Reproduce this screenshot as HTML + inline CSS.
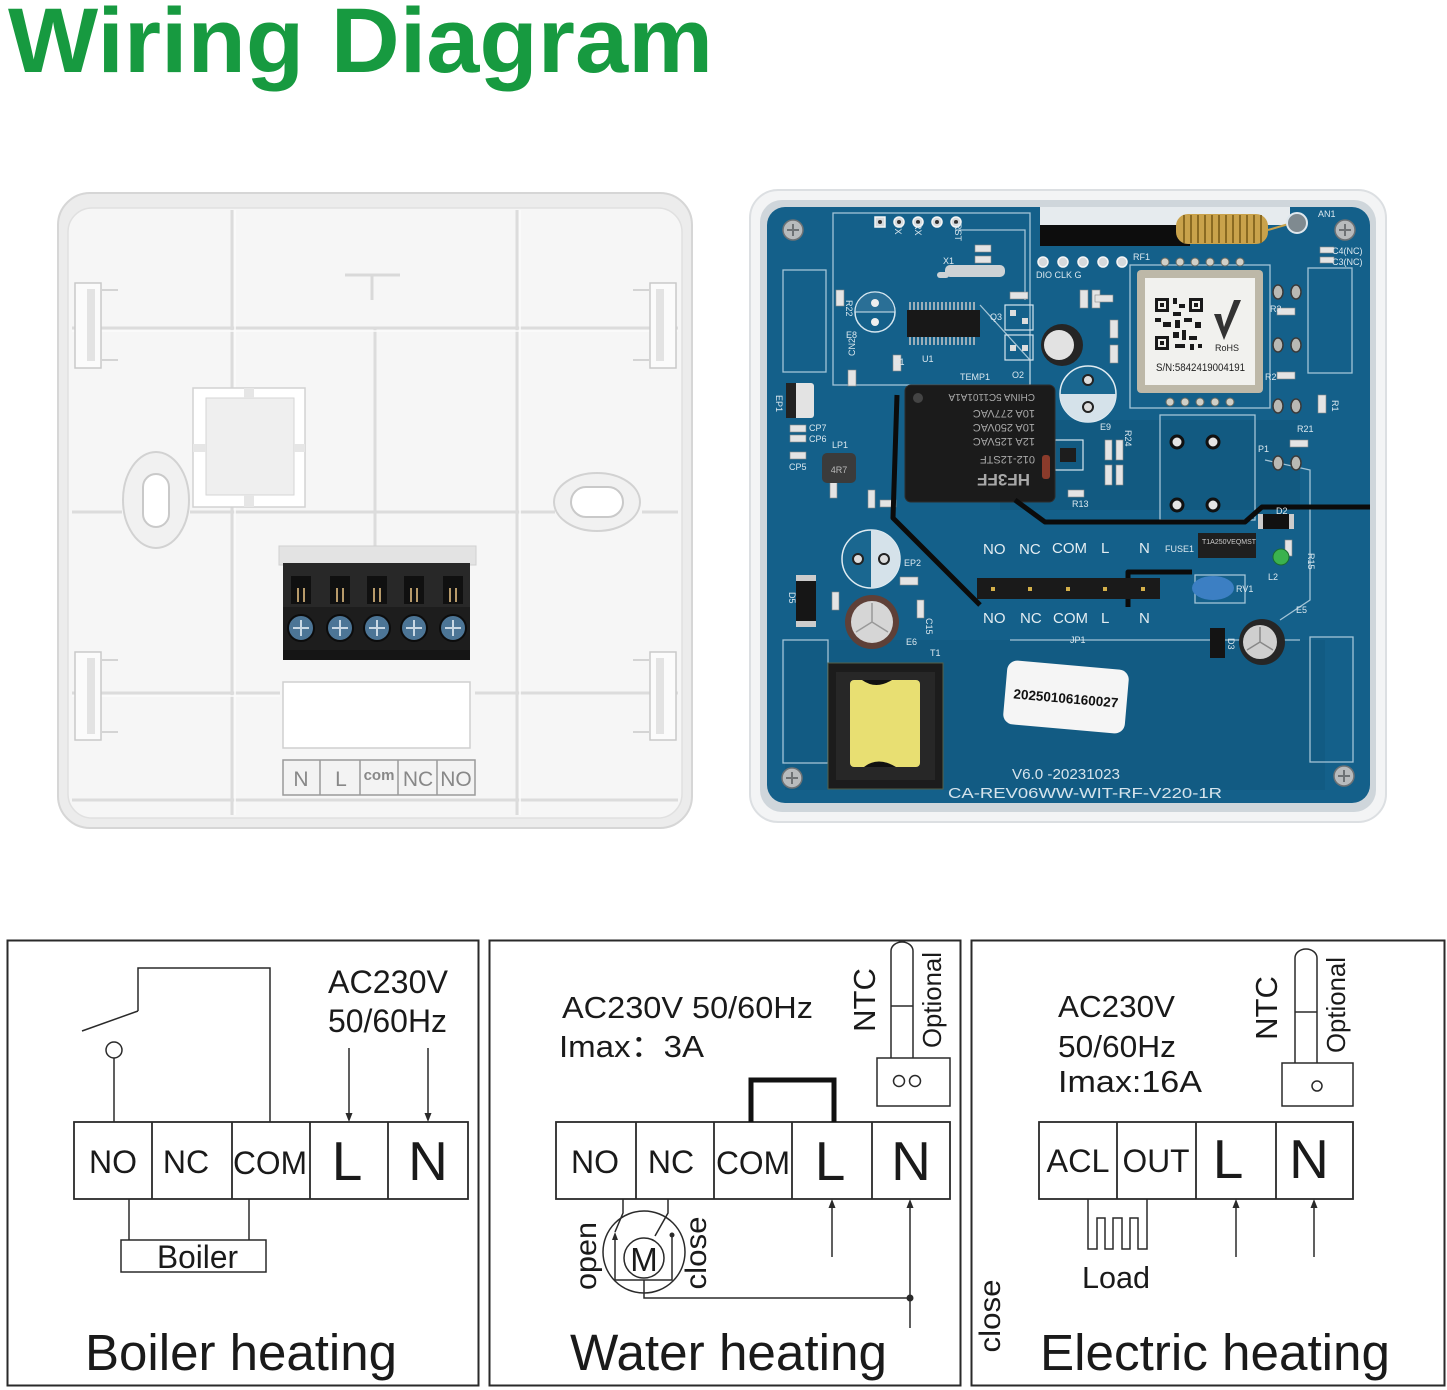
<!DOCTYPE html>
<html><head><meta charset="utf-8"><style>
html,body{margin:0;padding:0;background:#fff;}
svg{display:block;}
text{font-family:"Liberation Sans","Noto Sans CJK SC",sans-serif;}
</style></head><body>
<svg width="1447" height="1390" viewBox="0 0 1447 1390" xmlns="http://www.w3.org/2000/svg">
<rect width="1447" height="1390" fill="#fff"/>
<!-- Title -->
<text x="8" y="72" font-size="92" font-weight="bold" fill="#179a40" textLength="705" lengthAdjust="spacingAndGlyphs">Wiring Diagram</text>

<!-- ===== LEFT BACK PLATE ===== -->
<g>
<rect x="58" y="193" width="634" height="635" rx="32" fill="#ececec" stroke="#d6d6d6" stroke-width="2"/>
<rect x="68" y="208" width="614" height="610" rx="24" fill="#f6f6f6" stroke="#e0e0e0" stroke-width="1.5"/>
<g stroke="#dcdcdc" stroke-width="3" fill="none">
<line x1="232" y1="210" x2="232" y2="815"/>
<line x1="517" y1="210" x2="517" y2="815"/>
<line x1="375" y1="328" x2="375" y2="548"/>
<line x1="72" y1="328" x2="678" y2="328"/>
<line x1="72" y1="512" x2="122" y2="512"/>
<line x1="190" y1="512" x2="555" y2="512"/>
<line x1="642" y1="512" x2="678" y2="512"/>
<line x1="72" y1="693" x2="280" y2="693"/>
<line x1="475" y1="693" x2="678" y2="693"/>
<line x1="72" y1="800" x2="678" y2="800"/>
</g>
<g stroke="#fbfbfb" stroke-width="1.5">
<line x1="235" y1="210" x2="235" y2="815"/>
<line x1="520" y1="210" x2="520" y2="815"/>
<line x1="72" y1="331" x2="678" y2="331"/>
<line x1="72" y1="696" x2="280" y2="696"/>
</g>
<path d="M345 275 H400 M372 275 V300" stroke="#d9d9d9" stroke-width="3" fill="none"/>
<!-- clips -->
<g fill="#fbfbfb" stroke="#c9c9c9" stroke-width="1.5">
<rect x="75" y="283" width="26" height="85"/>
<rect x="75" y="652" width="26" height="88"/>
<rect x="650" y="283" width="26" height="85"/>
<rect x="650" y="652" width="26" height="88"/>
</g>
<g fill="#e3e3e3">
<rect x="87" y="289" width="8" height="72"/>
<rect x="87" y="658" width="8" height="76"/>
<rect x="656" y="289" width="8" height="72"/>
<rect x="656" y="658" width="8" height="76"/>
</g>
<g stroke="#d4d4d4" stroke-width="2" fill="none">
<path d="M101 290 H118 M101 360 H118 M101 660 H118 M101 732 H118"/>
<path d="M650 290 H633 M650 360 H633 M650 660 H633 M650 732 H633"/>
</g>
<!-- square knockout -->
<rect x="193" y="388" width="112" height="119" fill="#ffffff" stroke="#d2d2d2" stroke-width="1.5"/>
<rect x="206" y="398" width="88" height="97" fill="#efefef" stroke="#d6d6d6"/>
<g fill="#e6e6e6">
<rect x="244" y="388" width="10" height="10"/>
<rect x="244" y="495" width="10" height="12"/>
<rect x="193" y="444" width="13" height="8"/>
<rect x="294" y="444" width="11" height="8"/>
</g>
<!-- ovals -->
<ellipse cx="156" cy="500" rx="33" ry="48" fill="#f1f1f1" stroke="#d2d2d2" stroke-width="2"/>
<rect x="143" y="474" width="26" height="53" rx="13" fill="#fff" stroke="#c9c9c9" stroke-width="2"/>
<ellipse cx="597" cy="502" rx="43" ry="29" fill="#f1f1f1" stroke="#d2d2d2" stroke-width="2"/>
<rect x="571" y="487" width="52" height="30" rx="15" fill="#fff" stroke="#c9c9c9" stroke-width="2"/>
<!-- terminal block -->
<rect x="279" y="546" width="197" height="19" fill="#e3e3e3" stroke="#d0d0d0"/>
<rect x="283" y="563" width="187" height="97" fill="#1d1d1d"/>
<rect x="283" y="563" width="187" height="44" fill="#282828"/>
<rect x="283" y="650" width="187" height="10" fill="#151515"/>
<g fill="#101010">
<rect x="291" y="576" width="20" height="28"/><rect x="330" y="576" width="20" height="28"/><rect x="367" y="576" width="20" height="28"/><rect x="404" y="576" width="20" height="28"/><rect x="443" y="576" width="20" height="28"/>
</g>
<g stroke="#b79a6a" stroke-width="2">
<path d="M298 588 V602 M304 588 V602 M337 588 V602 M343 588 V602 M374 588 V602 M380 588 V602 M411 588 V602 M417 588 V602 M450 588 V602 M456 588 V602"/>
</g>
<g fill="#4c7596" stroke="#0c0c0c" stroke-width="2">
<circle cx="301" cy="628" r="13"/><circle cx="340" cy="628" r="13"/><circle cx="377" cy="628" r="13"/><circle cx="414" cy="628" r="13"/><circle cx="453" cy="628" r="13"/>
</g>
<g stroke="#c9d8e4" stroke-width="2">
<path d="M293 628 H309 M301 620 V636 M332 628 H348 M340 620 V636 M369 628 H385 M377 620 V636 M406 628 H422 M414 620 V636 M445 628 H461 M453 620 V636"/>
</g>
<rect x="283" y="682" width="187" height="66" fill="#fff" stroke="#cfcfcf" stroke-width="1.5"/>
<rect x="283" y="760" width="192" height="35" fill="#f3f3f3" stroke="#9a9a9a" stroke-width="1.5"/>
<path d="M320 760 V795 M360 760 V795 M398 760 V795 M437 760 V795" stroke="#9a9a9a" stroke-width="1.5"/>
<g fill="#888" font-size="21" text-anchor="middle">
<text x="301" y="786">N</text><text x="341" y="786">L</text><text x="379" y="780" font-size="15" font-weight="bold">com</text><text x="418" y="786">NC</text><text x="456" y="786">NO</text>
</g>
</g>

<!-- ===== PCB ===== -->
<g>
<rect x="750" y="190" width="636" height="632" rx="28" fill="#f3f4f5" stroke="#dcdfe2" stroke-width="2"/>
<rect x="760" y="200" width="616" height="612" rx="22" fill="#cfd6db"/>
<rect x="767" y="207" width="603" height="596" rx="18" fill="#14608a"/>
<!-- darker zones -->
<rect x="1000" y="420" width="300" height="90" fill="#0f5377" opacity="0.5"/>
<rect x="785" y="640" width="540" height="150" fill="#0f5679" opacity="0.4"/>
<!-- top slot + antenna -->
<rect x="1040" y="207" width="250" height="18" fill="#e6ebee"/>
<rect x="1040" y="225" width="150" height="21" fill="#0d0d0d"/>
<rect x="1176" y="214" width="92" height="30" rx="12" fill="#c9a24b"/>
<g stroke="#8a6a22" stroke-width="2">
<path d="M1184 215 V243 M1191 215 V243 M1198 215 V243 M1205 215 V243 M1212 215 V243 M1219 215 V243 M1226 215 V243 M1233 215 V243 M1240 215 V243 M1247 215 V243 M1254 215 V243 M1261 215 V243"/>
</g>
<path d="M1268 230 L1292 223" stroke="#c9a24b" stroke-width="2"/>
<circle cx="1297" cy="223" r="10" fill="#7f8a90" stroke="#dfe8ee" stroke-width="2"/>
<!-- screws -->
<g fill="#b8bbbd" stroke="#6e7275" stroke-width="1.5">
<circle cx="793" cy="230" r="10"/><circle cx="1345" cy="230" r="10"/><circle cx="792" cy="778" r="10"/><circle cx="1344" cy="776" r="10"/>
</g>
<g stroke="#6e7275" stroke-width="2">
<path d="M787 230 H799 M793 224 V236 M1339 230 H1351 M1345 224 V236 M786 778 H798 M792 772 V784 M1338 776 H1350 M1344 770 V782"/>
</g>
<!-- silkscreen outlines -->
<g fill="none" stroke="#bcd6e4" stroke-width="1.3" opacity="0.85">
<rect x="833" y="213" width="197" height="172"/>
<rect x="783" y="270" width="43" height="102"/>
<rect x="1308" y="268" width="44" height="105"/>
<rect x="783" y="640" width="45" height="123"/>
<rect x="1310" y="637" width="43" height="125"/>
<rect x="1160" y="415" width="95" height="105"/>
<rect x="1130" y="265" width="140" height="143"/>
<rect x="1195" y="575" width="50" height="28"/>
<path d="M955 230 L1025 230 L1025 300 M980 305 L1030 360 L1030 385"/>
<path d="M1265 460 L1310 470 L1310 600 L1280 620 M1010 640 L1300 640"/>
</g>
<!-- top pin header -->
<g fill="#d5d9dc" stroke="#f5f5f5" stroke-width="1.5">
<rect x="875" y="217" width="10" height="10"/>
<circle cx="899" cy="222" r="5"/><circle cx="918" cy="222" r="5"/><circle cx="937" cy="222" r="5"/><circle cx="956" cy="222" r="5"/>
</g>
<g fill="#333"><circle cx="880" cy="222" r="2"/><circle cx="899" cy="222" r="2"/><circle cx="918" cy="222" r="2"/><circle cx="937" cy="222" r="2"/><circle cx="956" cy="222" r="2"/></g>
<!-- second header -->
<g fill="#d5d9dc" stroke="#f5f5f5" stroke-width="1.5">
<circle cx="1043" cy="262" r="5"/><circle cx="1063" cy="262" r="5"/><circle cx="1083" cy="262" r="5"/><circle cx="1103" cy="262" r="5"/><circle cx="1122" cy="262" r="5"/>
</g>
<!-- U1 chip -->
<rect x="907" y="310" width="73" height="27" fill="#181818"/>
<g stroke="#c8c8c8" stroke-width="1.5">
<path d="M910 302 V310 M914 302 V310 M918 302 V310 M922 302 V310 M926 302 V310 M930 302 V310 M934 302 V310 M938 302 V310 M942 302 V310 M946 302 V310 M950 302 V310 M954 302 V310 M958 302 V310 M962 302 V310 M966 302 V310 M970 302 V310 M974 302 V310"/>
<path d="M910 337 V345 M914 337 V345 M918 337 V345 M922 337 V345 M926 337 V345 M930 337 V345 M934 337 V345 M938 337 V345 M942 337 V345 M946 337 V345 M950 337 V345 M954 337 V345 M958 337 V345 M962 337 V345 M966 337 V345 M970 337 V345 M974 337 V345"/>
</g>
<!-- crystal -->
<rect x="945" y="265" width="60" height="12" rx="5" fill="#cdd2d5"/>
<rect x="937" y="272" width="12" height="6" rx="3" fill="#cdd2d5"/>
<!-- E8 -->
<circle cx="875" cy="312" r="20" fill="none" stroke="#d5e6ef" stroke-width="1.5"/>
<path d="M855 312 A20 20 0 0 1 895 312 Z" fill="#2a6f96" stroke="#d5e6ef"/>
<circle cx="875" cy="303" r="4" fill="#eee"/><circle cx="875" cy="322" r="4" fill="#eee"/>
<!-- E1 cap -->
<circle cx="1062" cy="345" r="21" fill="#252525"/>
<circle cx="1059" cy="345" r="15" fill="#e2e2e2"/>
<!-- EP1 -->
<rect x="786" y="383" width="28" height="35" rx="3" fill="#e3e3e3"/>
<rect x="786" y="383" width="10" height="35" fill="#222"/>
<!-- small smd -->
<g fill="#e4e4e4" stroke="#888" stroke-width="0.6">
<rect x="836" y="290" width="8" height="16"/><rect x="893" y="355" width="8" height="16"/><rect x="848" y="370" width="8" height="16"/>
<rect x="975" y="245" width="16" height="7"/><rect x="975" y="256" width="16" height="7"/>
<rect x="1010" y="292" width="18" height="7"/><rect x="1080" y="290" width="8" height="18"/><rect x="1092" y="290" width="8" height="18"/>
<rect x="1110" y="320" width="8" height="18"/><rect x="1110" y="345" width="8" height="18"/><rect x="1095" y="295" width="18" height="7"/>
<rect x="1277" y="308" width="18" height="7"/><rect x="1277" y="372" width="18" height="7"/><rect x="1318" y="395" width="8" height="18"/>
<rect x="1290" y="440" width="18" height="7"/><rect x="1320" y="247" width="14" height="6"/><rect x="1320" y="257" width="14" height="6"/>
<rect x="790" y="425" width="16" height="7"/><rect x="790" y="435" width="16" height="7"/><rect x="790" y="452" width="16" height="7"/>
<rect x="830" y="480" width="7" height="18"/><rect x="868" y="490" width="7" height="18"/><rect x="880" y="500" width="16" height="7"/>
<rect x="1105" y="440" width="7" height="20"/><rect x="1116" y="440" width="7" height="20"/><rect x="1105" y="465" width="7" height="20"/><rect x="1116" y="465" width="7" height="20"/>
<rect x="1068" y="490" width="16" height="7"/><rect x="1285" y="540" width="7" height="16"/><rect x="917" y="600" width="7" height="18"/>
<rect x="832" y="592" width="7" height="18"/><rect x="900" y="577" width="18" height="8"/>
</g>
<!-- Q3/O2 packages -->
<g fill="none" stroke="#d5e6ef" stroke-width="1.2">
<rect x="1005" y="305" width="28" height="25"/><rect x="1005" y="335" width="28" height="25"/><rect x="1055" y="440" width="28" height="30"/>
</g>
<g fill="#ddd"><rect x="1010" y="310" width="6" height="6"/><rect x="1022" y="318" width="6" height="6"/><rect x="1010" y="345" width="6" height="6"/><rect x="1022" y="345" width="6" height="6"/></g>
<rect x="1060" y="448" width="16" height="14" fill="#1d1d1d"/>
<!-- relay -->
<rect x="905" y="385" width="150" height="117" rx="6" fill="#1b1b1b" stroke="#2c2c2c"/>
<g transform="rotate(180 980 443)" fill="#a9a9a9">
<text x="930" y="412" font-size="17" font-weight="bold">HF3FF</text>
<text x="925" y="430" font-size="11">012-12STF</text>
<text x="925" y="448" font-size="11">12A 125VAC</text>
<text x="925" y="462" font-size="11">10A 250VAC</text>
<text x="925" y="476" font-size="11">10A 277VAC</text>
<text x="925" y="492" font-size="10">CHINA 5C1101A1A</text>
</g>
<circle cx="918" cy="398" r="5" fill="#444"/>
<!-- diode D1 -->
<rect x="1042" y="455" width="8" height="24" rx="3" fill="#8a3b2b"/>
<!-- E9 -->
<circle cx="1088" cy="394" r="28" fill="#1a6790" stroke="#e0ecf2" stroke-width="1.5"/>
<path d="M1060 394 A28 28 0 0 0 1116 394 Z" fill="#d5e2ea"/>
<circle cx="1088" cy="380" r="5" fill="#ddd" stroke="#222" stroke-width="2"/>
<circle cx="1088" cy="407" r="5" fill="#ddd" stroke="#222" stroke-width="2"/>
<!-- RF module -->
<rect x="1137" y="270" width="126" height="123" rx="4" fill="#bdb8a8"/>
<rect x="1145" y="278" width="110" height="107" fill="#f1f1ee"/>
<g fill="#1a1a1a">
<rect x="1155" y="298" width="14" height="14"/><rect x="1158" y="301" width="8" height="8" fill="#f1f1ee"/><rect x="1160" y="303" width="4" height="4"/>
<rect x="1189" y="298" width="14" height="14"/><rect x="1192" y="301" width="8" height="8" fill="#f1f1ee"/><rect x="1194" y="303" width="4" height="4"/>
<rect x="1155" y="336" width="14" height="14"/><rect x="1158" y="339" width="8" height="8" fill="#f1f1ee"/><rect x="1160" y="341" width="4" height="4"/>
<rect x="1173" y="298" width="4" height="6"/><rect x="1179" y="304" width="6" height="4"/><rect x="1173" y="312" width="8" height="4"/>
<rect x="1155" y="318" width="6" height="4"/><rect x="1163" y="322" width="8" height="5"/><rect x="1175" y="320" width="5" height="8"/>
<rect x="1184" y="318" width="8" height="4"/><rect x="1195" y="322" width="6" height="6"/><rect x="1173" y="332" width="6" height="6"/>
<rect x="1182" y="330" width="4" height="10"/><rect x="1189" y="336" width="8" height="4"/><rect x="1175" y="344" width="10" height="4"/>
<rect x="1190" y="344" width="4" height="6"/><rect x="1198" y="344" width="4" height="4"/>
</g>
<path d="M1214 314 L1224 340 L1241 300 L1234 300 L1224 327 L1221 314 Z" fill="#333"/>
<text x="1215" y="351" font-size="9" fill="#222">RoHS</text>
<text x="1156" y="371" font-size="11" fill="#222" textLength="89" lengthAdjust="spacingAndGlyphs">S/N:5842419004191</text>
<g fill="#d0d0c8" stroke="#6a6a60" stroke-width="1">
<circle cx="1165" cy="262" r="4"/><circle cx="1180" cy="262" r="4"/><circle cx="1195" cy="262" r="4"/><circle cx="1210" cy="262" r="4"/><circle cx="1225" cy="262" r="4"/><circle cx="1240" cy="262" r="4"/>
<circle cx="1170" cy="402" r="4"/><circle cx="1185" cy="402" r="4"/><circle cx="1200" cy="402" r="4"/><circle cx="1215" cy="402" r="4"/><circle cx="1230" cy="402" r="4"/>
</g>
<!-- right pads -->
<g fill="#b9b9b4" stroke="#3a3a3a" stroke-width="1.5">
<ellipse cx="1278" cy="292" rx="5" ry="7"/><ellipse cx="1296" cy="292" rx="5" ry="7"/>
<ellipse cx="1278" cy="345" rx="5" ry="7"/><ellipse cx="1296" cy="345" rx="5" ry="7"/>
<ellipse cx="1278" cy="406" rx="5" ry="7"/><ellipse cx="1296" cy="406" rx="5" ry="7"/>
<ellipse cx="1278" cy="463" rx="5" ry="7"/><ellipse cx="1296" cy="463" rx="5" ry="7"/>
</g>
<g fill="#e5e5e5" stroke="#111" stroke-width="3">
<circle cx="1177" cy="442" r="6"/><circle cx="1213" cy="442" r="6"/><circle cx="1177" cy="505" r="6"/><circle cx="1213" cy="505" r="6"/>
</g>
<!-- black traces -->
<g fill="none" stroke="#0b0b0b" stroke-width="5" stroke-linejoin="round">
<path d="M897 395 L893 518 L980 605"/>
<path d="M1015 500 L1045 522 L1245 522 L1262 507 L1370 507"/>
<path d="M1128 607 V572 H1192"/>
</g>
<!-- LP1 -->
<rect x="822" y="453" width="34" height="30" rx="5" fill="#3b3b3b"/>
<text x="839" y="473" font-size="9" fill="#bbb" text-anchor="middle">4R7</text>
<!-- EP2 -->
<circle cx="871" cy="559" r="29" fill="#1a6790" stroke="#e0ecf2" stroke-width="1.5"/>
<path d="M871 530 A29 29 0 0 1 871 588 Z" fill="#d5e2ea"/>
<circle cx="858" cy="559" r="5" fill="#ddd" stroke="#222" stroke-width="2"/>
<circle cx="884" cy="559" r="5" fill="#ddd" stroke="#222" stroke-width="2"/>
<!-- E6 -->
<circle cx="872" cy="622" r="27" fill="#5e4038"/>
<circle cx="872" cy="622" r="21" fill="#d6d6d6"/>
<path d="M872 622 L872 603 M872 622 L856 632 M872 622 L888 632" stroke="#999" stroke-width="1.5"/>
<!-- D5 -->
<rect x="796" y="575" width="20" height="52" fill="#161616"/>
<rect x="796" y="575" width="20" height="6" fill="#ccc"/><rect x="796" y="621" width="20" height="6" fill="#ccc"/>
<!-- header JP1 -->
<rect x="977" y="578" width="183" height="21" fill="#1a1a1a"/>
<g fill="#d4b04a"><rect x="991" y="587" width="4" height="4"/><rect x="1028" y="587" width="4" height="4"/><rect x="1066" y="587" width="4" height="4"/><rect x="1103" y="587" width="4" height="4"/><rect x="1141" y="587" width="4" height="4"/></g>
<g fill="#e3edf2" font-size="15">
<text x="983" y="554">NO</text><text x="1019" y="554">NC</text><text x="1052" y="553">COM</text><text x="1101" y="553">L</text><text x="1139" y="553">N</text>
<text x="983" y="623">NO</text><text x="1020" y="623">NC</text><text x="1053" y="623">COM</text><text x="1101" y="623">L</text><text x="1139" y="623">N</text>
</g>
<!-- fuse / D2 / LED / RV1 / E5 / D3 -->
<rect x="1198" y="533" width="58" height="25" fill="#1f1f1f"/>
<text x="1202" y="544" font-size="7" fill="#ccc">T1A250VEQMST</text>
<rect x="1262" y="514" width="28" height="15" fill="#111"/>
<rect x="1258" y="514" width="5" height="15" fill="#ccc"/><rect x="1289" y="514" width="5" height="15" fill="#ccc"/>
<circle cx="1281" cy="557" r="8" fill="#3bb24e" stroke="#1b6b30"/>
<ellipse cx="1213" cy="588" rx="21" ry="12" fill="#3c7fc3"/>
<circle cx="1262" cy="642" r="23" fill="#262626"/>
<circle cx="1260" cy="642" r="17" fill="#cfcfcf"/>
<path d="M1260 642 L1260 627 M1260 642 L1247 650 M1260 642 L1273 650" stroke="#888" stroke-width="1.5"/>
<rect x="1210" y="628" width="15" height="30" fill="#141414"/>
<!-- sticker -->
<g transform="rotate(5 1066 697)">
<rect x="1005" y="665" width="122" height="64" rx="10" fill="#f5f5f5"/>
<text x="1066" y="703" font-size="13.5" font-weight="bold" fill="#111" text-anchor="middle">20250106160027</text>
</g>
<!-- transformer -->
<rect x="828" y="663" width="115" height="126" fill="#1c1c1c" stroke="#55604a"/>
<rect x="836" y="672" width="99" height="108" fill="#272727"/>
<rect x="850" y="680" width="70" height="87" rx="4" fill="#e8df72"/>
<path d="M862 680 Q876 690 892 680 Z M864 767 Q878 756 896 767 Z" fill="#111"/>
<!-- board labels -->
<g fill="#dbe8ef" font-size="9">
<text x="1133" y="260">RF1</text><text x="1318" y="217">AN1</text><text x="1332" y="254">C4(NC)</text><text x="1332" y="265">C3(NC)</text>
<text x="1270" y="312">R3</text><text x="1265" y="380">R2</text><text x="1297" y="432">R21</text><text x="1258" y="452">P1</text>
<text x="1100" y="430">E9</text><text x="960" y="380">TEMP1</text><text x="1012" y="378">O2</text><text x="990" y="320">Q3</text>
<text x="893" y="365">C1</text><text x="922" y="362">U1</text><text x="846" y="338">E8</text><text x="809" y="431">CP7</text>
<text x="809" y="442">CP6</text><text x="789" y="470">CP5</text><text x="832" y="448">LP1</text><text x="906" y="645">E6</text>
<text x="930" y="656">T1</text><text x="904" y="566">EP2</text><text x="1276" y="514">D2</text><text x="1268" y="580">L2</text>
<text x="1236" y="592">RV1</text><text x="1296" y="613">E5</text><text x="1072" y="507">R13</text><text x="1165" y="552">FUSE1</text>
<text x="1070" y="643">JP1</text><text x="943" y="264">X1</text><text x="1036" y="278">DIO CLK G</text>
</g>
<g fill="#dbe8ef" font-size="9">
<text transform="translate(846 300) rotate(90)">R22</text>
<text transform="translate(855 356) rotate(-90)">CN2</text>
<text transform="translate(776 395) rotate(90)">EP1</text>
<text transform="translate(1332 400) rotate(90)">R1</text>
<text transform="translate(1308 553) rotate(90)">R15</text>
<text transform="translate(789 592) rotate(90)">D5</text>
<text transform="translate(926 618) rotate(90)">C15</text>
<text transform="translate(1228 638) rotate(90)">D3</text>
<text transform="translate(1125 430) rotate(90)">R24</text>
<text transform="translate(895 223) rotate(90)">TX</text>
<text transform="translate(915 223) rotate(90)">RX</text>
<text transform="translate(955 223) rotate(90)">RST</text>
</g>
<text x="1012" y="779" font-size="15" fill="#d6e4ec" textLength="108" lengthAdjust="spacingAndGlyphs">V6.0 -20231023</text>
<text x="948" y="798" font-size="15" fill="#d6e4ec" textLength="274" lengthAdjust="spacingAndGlyphs">CA-REV06WW-WIT-RF-V220-1R</text>
</g>

<!-- ===== BOTTOM DIAGRAMS ===== -->
<g fill="none" stroke="#2a2a2a" stroke-width="2">
<rect x="7.5" y="940.5" width="471" height="445"/>
<rect x="489.5" y="940.5" width="471" height="445"/>
<rect x="971.5" y="940.5" width="473" height="445"/>
</g>

<!-- Panel 1 -->
<g fill="none" stroke="#2a2a2a" stroke-width="1.8">
<rect x="74" y="1122" width="394" height="77"/>
<path d="M152 1122 V1199 M232 1122 V1199 M310 1122 V1199 M388 1122 V1199"/>
</g>
<g fill="none" stroke="#2a2a2a" stroke-width="1.5">
<line x1="114" y1="1122" x2="114" y2="1058"/>
<circle cx="114" cy="1050" r="8"/>
<line x1="82" y1="1031" x2="138" y2="1011"/>
<polyline points="138,1011 138,968 270,968 270,1122"/>
<line x1="349" y1="1048" x2="349" y2="1115"/>
<line x1="428" y1="1048" x2="428" y2="1115"/>
<line x1="129" y1="1199" x2="129" y2="1240"/>
<line x1="249" y1="1199" x2="249" y2="1240"/>
<rect x="121" y="1240" width="145" height="32"/>
</g>
<g fill="#2a2a2a">
<polygon points="345.5,1113 352.5,1113 349,1122"/>
<polygon points="424.5,1113 431.5,1113 428,1122"/>
</g>
<g fill="#1a1a1a">
<text x="113" y="1173" font-size="32" text-anchor="middle">NO</text>
<text x="186" y="1173" font-size="32" text-anchor="middle">NC</text>
<text x="270" y="1174" font-size="32" text-anchor="middle" textLength="74" lengthAdjust="spacingAndGlyphs">COM</text>
<text x="347" y="1180" font-size="55" text-anchor="middle">L</text>
<text x="428" y="1180" font-size="55" text-anchor="middle">N</text>
<text x="328" y="993" font-size="32" textLength="120" lengthAdjust="spacingAndGlyphs">AC230V</text>
<text x="328" y="1032" font-size="32" textLength="119" lengthAdjust="spacingAndGlyphs">50/60Hz</text>
<text x="157" y="1268" font-size="32" textLength="81" lengthAdjust="spacingAndGlyphs">Boiler</text>
<text x="85" y="1370" font-size="51" textLength="312" lengthAdjust="spacingAndGlyphs">Boiler heating</text>
</g>

<!-- Panel 2 -->
<g fill="none" stroke="#2a2a2a" stroke-width="1.8">
<rect x="556" y="1122" width="394" height="77"/>
<path d="M636 1122 V1199 M714 1122 V1199 M792 1122 V1199 M872 1122 V1199"/>
</g>
<path d="M751 1122 V1080 H834 V1122" fill="none" stroke="#111" stroke-width="5"/>
<g fill="none" stroke="#2a2a2a" stroke-width="1.5">
<path d="M891 1058 V951 A11 9 0 0 1 913 951 V1058"/>
<line x1="891" y1="1006" x2="913" y2="1006"/>
<rect x="877" y="1058" width="73" height="48"/>
<circle cx="899" cy="1081" r="5.5"/>
<circle cx="915" cy="1081" r="5.5"/>
<circle cx="644" cy="1252" r="41"/>
<circle cx="644" cy="1258" r="20"/>
<path d="M623 1199 V1213 L615 1232"/>
<path d="M668 1199 V1213 L655 1236"/>
<path d="M615 1236 V1280 H672 V1236"/>
<path d="M644 1280 V1298 H910"/>
<line x1="910" y1="1206" x2="910" y2="1328"/>
<line x1="832" y1="1206" x2="832" y2="1257"/>
</g>
<g fill="#2a2a2a">
<polygon points="612,1240 618,1240 615,1232"/>
<circle cx="672" cy="1235" r="2.5"/>
<circle cx="910" cy="1298" r="3.5"/>
<polygon points="906.5,1208 913.5,1208 910,1199"/>
<polygon points="828.5,1208 835.5,1208 832,1199"/>
</g>
<g fill="#1a1a1a">
<text x="595" y="1173" font-size="32" text-anchor="middle">NO</text>
<text x="671" y="1173" font-size="32" text-anchor="middle">NC</text>
<text x="753" y="1174" font-size="32" text-anchor="middle" textLength="74" lengthAdjust="spacingAndGlyphs">COM</text>
<text x="830" y="1180" font-size="55" text-anchor="middle">L</text>
<text x="911" y="1180" font-size="55" text-anchor="middle">N</text>
<text x="562" y="1018" font-size="31" textLength="251" lengthAdjust="spacingAndGlyphs">AC230V 50/60Hz</text>
<text x="559" y="1057" font-size="31" textLength="145" lengthAdjust="spacingAndGlyphs">Imax：3A</text>
<text x="644" y="1271" font-size="33" text-anchor="middle">M</text>
<text transform="translate(875 1000) rotate(-90)" font-size="31" text-anchor="middle">NTC</text>
<text transform="translate(941 1000) rotate(-90)" font-size="26" text-anchor="middle" textLength="96" lengthAdjust="spacingAndGlyphs">Optional</text>
<text transform="translate(596 1256) rotate(-90)" font-size="30" text-anchor="middle" textLength="68" lengthAdjust="spacingAndGlyphs">open</text>
<text transform="translate(706 1253) rotate(-90)" font-size="30" text-anchor="middle" textLength="73" lengthAdjust="spacingAndGlyphs">close</text>
<text x="570" y="1370" font-size="51" textLength="317" lengthAdjust="spacingAndGlyphs">Water heating</text>
</g>

<!-- Panel 3 -->
<g fill="none" stroke="#2a2a2a" stroke-width="1.8">
<rect x="1039" y="1122" width="314" height="77"/>
<path d="M1117 1122 V1199 M1196 1122 V1199 M1276 1122 V1199"/>
</g>
<g fill="none" stroke="#2a2a2a" stroke-width="1.5">
<path d="M1295 1063 V958 A11 9 0 0 1 1317 958 V1063"/>
<line x1="1295" y1="1012" x2="1317" y2="1012"/>
<rect x="1282" y="1063" width="71" height="43"/>
<circle cx="1317" cy="1086" r="5"/>
<path d="M1088 1199 V1249 H1097 V1218 H1105 V1249 H1113 V1218 H1122 V1249 H1130 V1218 H1138 V1249 H1147 V1199"/>
<line x1="1236" y1="1206" x2="1236" y2="1257"/>
<line x1="1314" y1="1206" x2="1314" y2="1257"/>
</g>
<g fill="#2a2a2a">
<polygon points="1232.5,1208 1239.5,1208 1236,1199"/>
<polygon points="1310.5,1208 1317.5,1208 1314,1199"/>
</g>
<g fill="#1a1a1a">
<text x="1078" y="1172" font-size="32" text-anchor="middle" textLength="63" lengthAdjust="spacingAndGlyphs">ACL</text>
<text x="1156" y="1172" font-size="32" text-anchor="middle" textLength="67" lengthAdjust="spacingAndGlyphs">OUT</text>
<text x="1228" y="1178" font-size="55" text-anchor="middle">L</text>
<text x="1309" y="1178" font-size="55" text-anchor="middle">N</text>
<text x="1058" y="1017" font-size="31" textLength="117" lengthAdjust="spacingAndGlyphs">AC230V</text>
<text x="1058" y="1057" font-size="31" textLength="118" lengthAdjust="spacingAndGlyphs">50/60Hz</text>
<text x="1058" y="1092" font-size="31" textLength="144" lengthAdjust="spacingAndGlyphs">Imax:16A</text>
<text x="1082" y="1288" font-size="31" textLength="68" lengthAdjust="spacingAndGlyphs">Load</text>
<text transform="translate(1277 1008) rotate(-90)" font-size="31" text-anchor="middle">NTC</text>
<text transform="translate(1345 1005) rotate(-90)" font-size="26" text-anchor="middle" textLength="96" lengthAdjust="spacingAndGlyphs">Optional</text>
<text transform="translate(1000 1316) rotate(-90)" font-size="30" text-anchor="middle" textLength="73" lengthAdjust="spacingAndGlyphs">close</text>
<text x="1040" y="1370" font-size="51" textLength="350" lengthAdjust="spacingAndGlyphs">Electric heating</text>
</g>
</svg>
</body></html>
